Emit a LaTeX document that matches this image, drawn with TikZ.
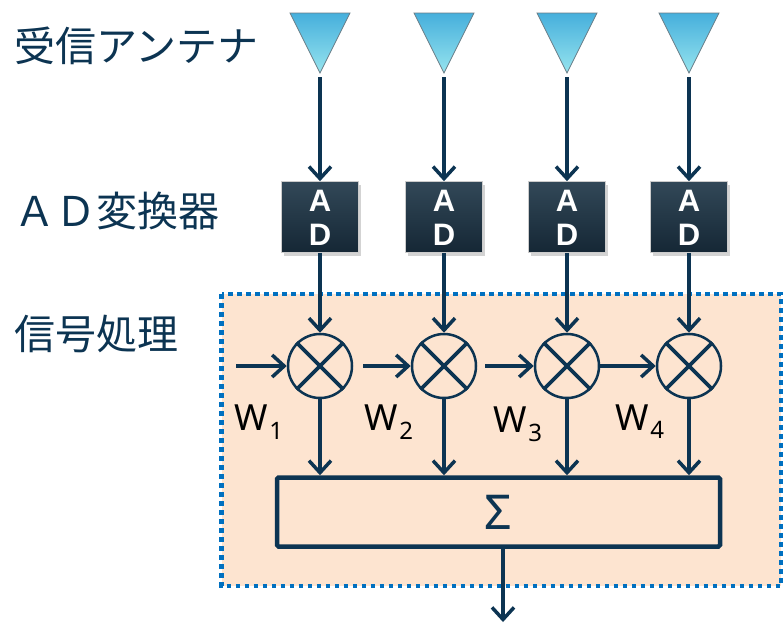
\documentclass[tikz,border=0pt]{standalone}
\usepackage{fontspec}
\setmainfont{Noto Sans CJK JP}
\newfontfamily\adfont{Liberation Sans}
\newfontfamily\wfont{Noto Sans}
\usetikzlibrary{arrows.meta,shadows,calc}
\definecolor{navy}{RGB}{12,52,82}
\definecolor{adfill}{RGB}{21,39,53}
\definecolor{adtop}{RGB}{50,72,88}
\definecolor{peach}{RGB}{253,228,208}
\definecolor{dotblue}{RGB}{0,112,192}
\definecolor{cyantop}{RGB}{70,175,220}
\definecolor{cyanmid}{RGB}{85,210,242}
\definecolor{cyanbot}{RGB}{150,228,238}
\definecolor{antedge}{RGB}{105,125,135}
\newcommand{\adletters}{\adfont\bfseries\fontsize{31}{36}\selectfont}
\begin{document}
\begin{tikzpicture}[x=1pt,y=-1pt,
  conn/.style={draw=navy, line width=3.5pt, -{Straight Barb[length=12pt,width=22pt]}},
  adbox/.style={top color=adtop, middle color=adfill, bottom color=adfill, draw=gray!40, line width=0.6pt,
    minimum width=77pt, minimum height=71pt, inner sep=0pt,
    drop shadow={opacity=0.35, shadow xshift=2pt, shadow yshift=-3pt}},
  adtext/.style={inner sep=0pt, text=white, font=\adletters},
  mult/.style={circle, draw=navy, line width=2.5pt, minimum size=64pt, inner sep=0pt},
  crossline/.style={draw=navy, line width=3.8pt},
  sumbox/.style={draw=navy, line width=4.5pt, rounded corners=1.5pt, minimum width=443pt, minimum height=69pt, inner sep=0pt,
    text=navy, font=\wfont\fontsize{48}{48}\selectfont},
  sigregion/.style={fill=peach, draw=dotblue, line width=4.5pt, dash pattern=on 4.5pt off 4.5pt},
  lefttext/.style={anchor=west, text=navy, inner sep=0pt, font=\fontsize{41}{41}\selectfont},
  wlabel/.style={inner sep=0pt, text=black, font=\wfont\fontsize{36}{36}\selectfont},
  antenna/.style={draw=antedge, line width=0.8pt, top color=cyantop, middle color=cyanmid, bottom color=cyanbot}
]
\useasboundingbox (0,0) rectangle (783,624);

% signal processing region
\draw[sigregion] (221.5,294) rectangle (781,586);

% left labels
\node[lefttext] (t1) at (14,46) {受信アンテナ};
\node[lefttext] (t2) at (14,211) {ＡＤ変換器};
\node[lefttext] (t3) at (14,334) {信号処理};

% antennas, converters, multipliers
\foreach \i/\x in {1/320,2/444,3/567,4/689}{
  \path[antenna] (\x-30,13) -- (\x+30,13) -- (\x,73) -- cycle;
  \coordinate (a\i) at (\x,77);
  \node[adbox] (d\i) at (\x,217) {};
  \node[adtext] (da\i) at (\x,201) {A};
  \node[adtext] (dd\i) at (\x,235) {D};
  \node[mult] (m\i) at (\x,366) {};
  \draw[crossline] (m\i.45) -- (m\i.225);
  \draw[crossline] (m\i.135) -- (m\i.315);
}

% sum box
\node[sumbox] (s) at (498.5,512) {Σ};

% W labels
\node[wlabel] (w1) at (259,422) {W\hspace{1pt}\raisebox{-9pt}{\fontsize{24}{24}\selectfont 1}};
\node[wlabel] (w2) at (389,422) {W\hspace{1pt}\raisebox{-9pt}{\fontsize{24}{24}\selectfont 2}};
\node[wlabel] (w3) at (518,424) {W\hspace{1pt}\raisebox{-9pt}{\fontsize{24}{24}\selectfont 3}};
\node[wlabel] (w4) at (640,422) {W\hspace{1pt}\raisebox{-8pt}{\fontsize{24}{24}\selectfont 4}};

% connectors
\coordinate (in) at (236,366);
\coordinate (out) at (503,622);
\foreach \i in {1,2,3,4}{
  \draw[conn] (a\i) -- (d\i);
  \draw[conn] (d\i) -- (m\i);
  \draw[conn] (m\i) -- (m\i |- s.north);
}
\draw[conn] (in) -- (m1);
\draw[conn, shorten <=10pt] (m1) -- (m2);
\draw[conn, shorten <=8pt] (m2) -- (m3);
\draw[conn] (m3) -- (m4);
\draw[conn] (s.south -| out) -- (out);
\end{tikzpicture}
\end{document}
